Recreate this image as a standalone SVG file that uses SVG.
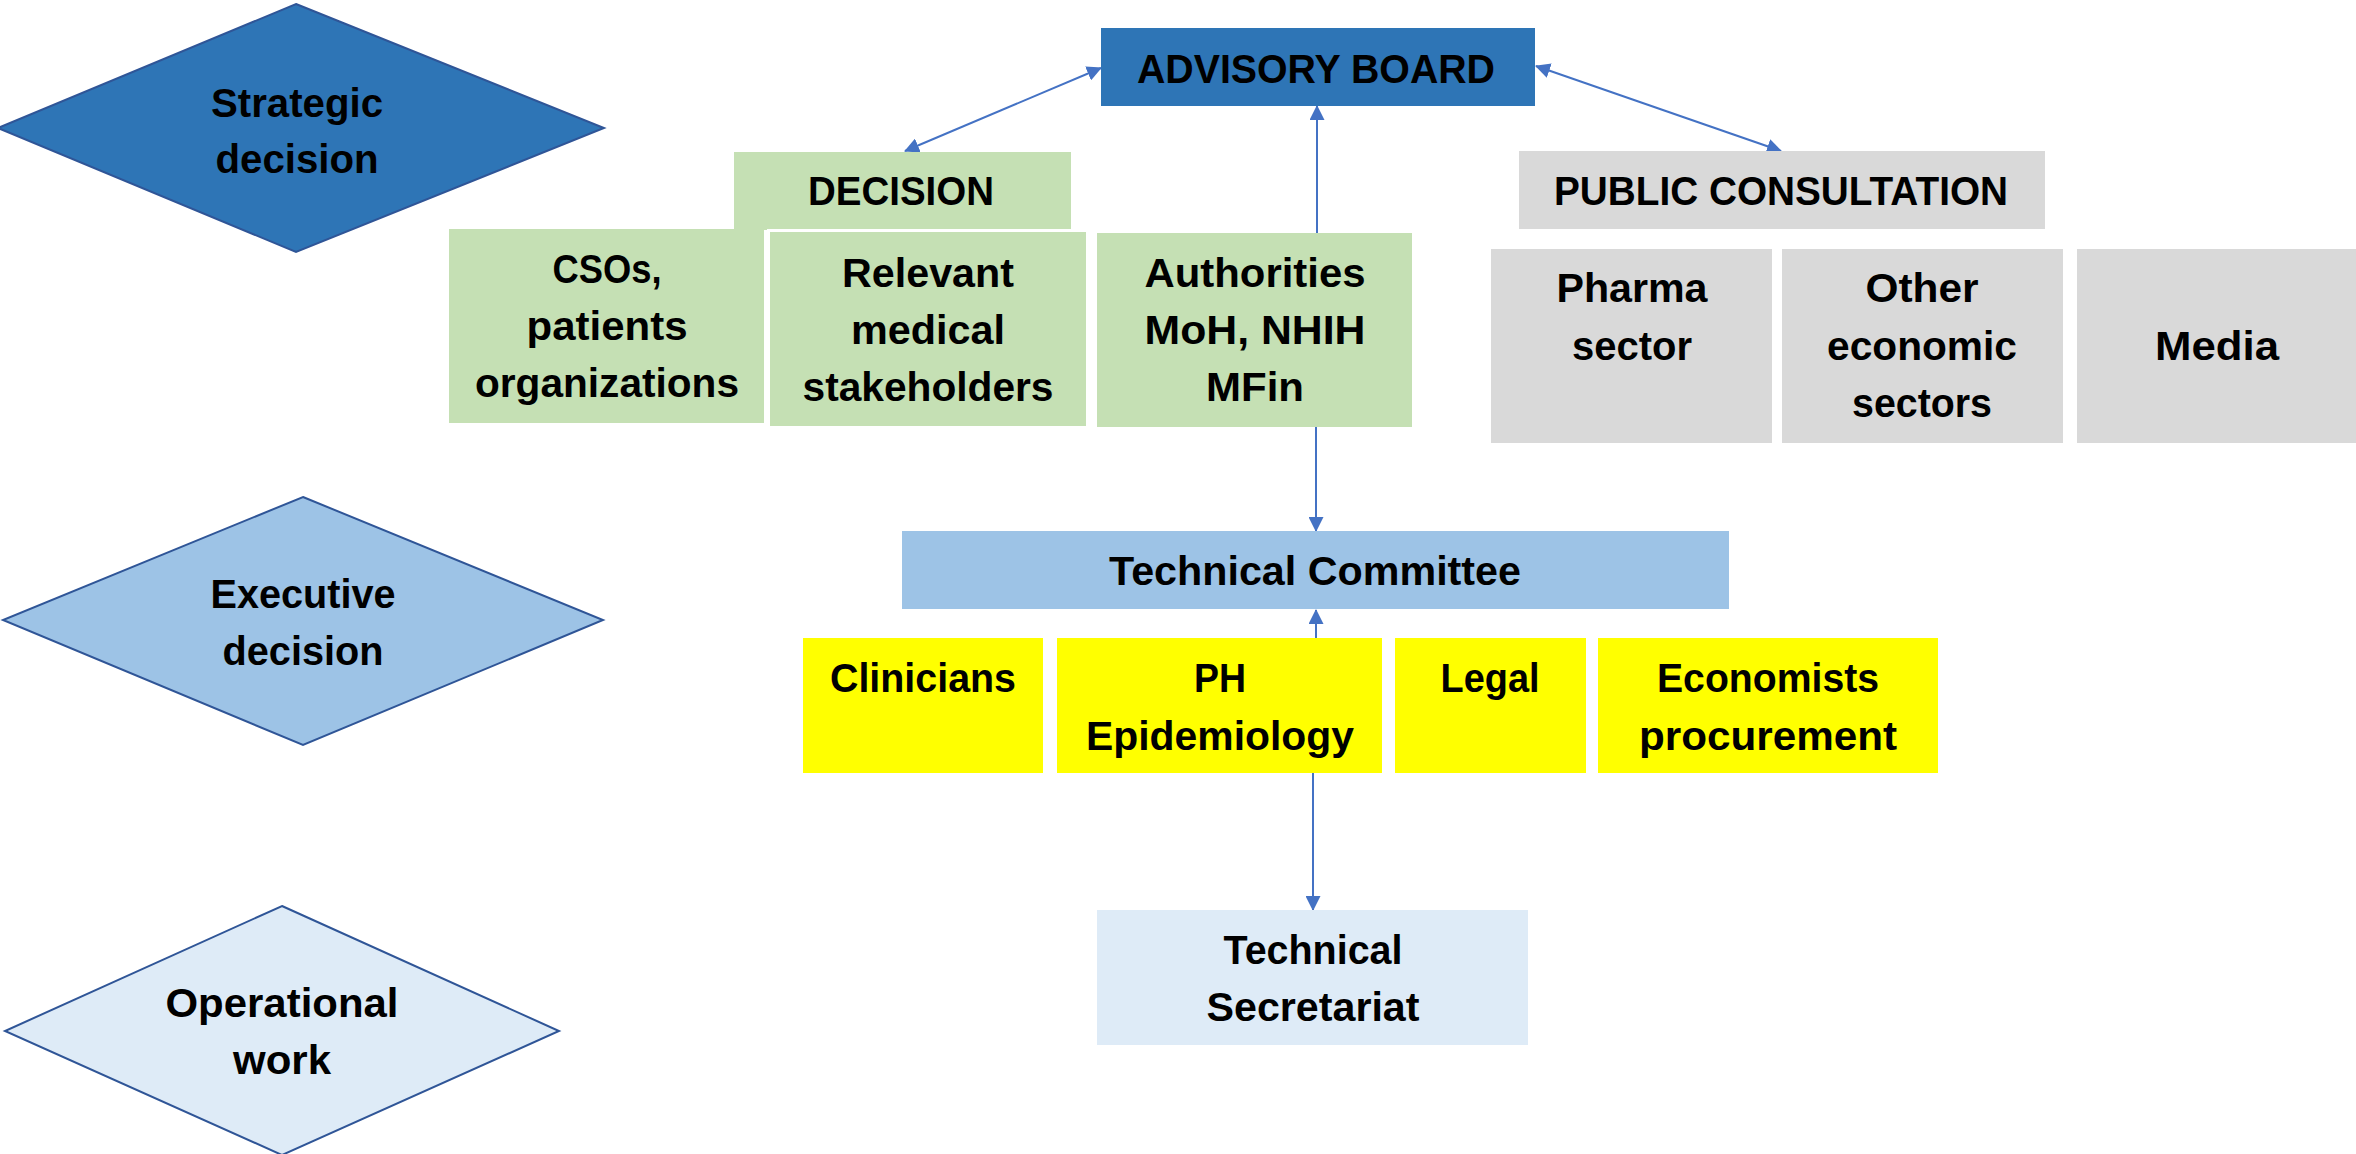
<svg xmlns="http://www.w3.org/2000/svg" width="2356" height="1154" viewBox="0 0 2356 1154">
  <defs>
    <marker id="arrow" viewBox="0 0 15 15" refX="14" refY="7.5" markerWidth="15" markerHeight="15" markerUnits="userSpaceOnUse" orient="auto-start-reverse">
      <path d="M0,0 L15,7.5 L0,15 z" fill="#4472C4"/>
    </marker>
    <style>
      text { font-family: "Liberation Sans", Arial, sans-serif; font-weight: bold; font-size: 40px; fill: #000; text-anchor: middle; }
      .level { stroke: #2F5597; stroke-width: 2; }
      .strategic { fill: #2E75B6; }
      .executive { fill: #9DC3E6; }
      .operational { fill: #DEEBF7; }
      .green { fill: #C5E0B4; }
      .grey { fill: #D9D9D9; }
      .yellow { fill: #FFFF00; }
      .conn { stroke: #4472C4; stroke-width: 2; fill: none; }
    </style>
  </defs>
  <rect width="2356" height="1154" fill="#fff"/>

  <!-- Level diamonds -->
  <g id="level-strategic">
    <polygon class="level strategic" points="296,4 604,128 296,252 -2,128"/>
    <text x="297" y="117" textLength="172" lengthAdjust="spacingAndGlyphs">Strategic</text>
    <text x="297" y="173" textLength="163" lengthAdjust="spacingAndGlyphs">decision</text>
  </g>
  <g id="level-executive">
    <polygon class="level executive" points="303,497 603,620 303,745 3,620"/>
    <text x="303" y="608" textLength="185" lengthAdjust="spacingAndGlyphs">Executive</text>
    <text x="303" y="665" textLength="161" lengthAdjust="spacingAndGlyphs">decision</text>
  </g>
  <g id="level-operational">
    <polygon class="level operational" points="282,906 559,1031 282,1155 5,1031"/>
    <text x="282" y="1017" textLength="233" lengthAdjust="spacingAndGlyphs">Operational</text>
    <text x="282" y="1074" textLength="98" lengthAdjust="spacingAndGlyphs">work</text>
  </g>

  <!-- Connectors -->
  <g id="connectors">
    <line class="conn" x1="1101" y1="68" x2="905" y2="151" marker-start="url(#arrow)" marker-end="url(#arrow)"/>
    <line class="conn" x1="1317" y1="233" x2="1317" y2="106" marker-end="url(#arrow)"/>
    <line class="conn" x1="1536" y1="66" x2="1781" y2="151" marker-start="url(#arrow)" marker-end="url(#arrow)"/>
    <line class="conn" x1="1316" y1="427" x2="1316" y2="531" marker-end="url(#arrow)"/>
    <line class="conn" x1="1316" y1="638" x2="1316" y2="610" marker-end="url(#arrow)"/>
    <line class="conn" x1="1313" y1="773" x2="1313" y2="910" marker-end="url(#arrow)"/>
  </g>

  <!-- Strategic level -->
  <g id="advisory-board">
    <rect x="1101" y="28" width="434" height="78" class="strategic"/>
    <text x="1316" y="83" textLength="358" lengthAdjust="spacingAndGlyphs">ADVISORY BOARD</text>
  </g>
  <g id="decision">
    <rect x="734" y="152" width="337" height="78" class="green"/>
    <text x="901" y="205" textLength="186" lengthAdjust="spacingAndGlyphs">DECISION</text>
  </g>
  <g id="csos">
    <rect x="449" y="229" width="315" height="194" class="green"/>
    <text x="607" y="283" textLength="109" lengthAdjust="spacingAndGlyphs">CSOs,</text>
    <text x="607" y="340" textLength="161" lengthAdjust="spacingAndGlyphs">patients</text>
    <text x="607" y="397" textLength="264" lengthAdjust="spacingAndGlyphs">organizations</text>
  </g>
  <g id="medical-stakeholders">
    <rect x="770" y="232" width="316" height="194" class="green" stroke="#fff" stroke-width="6" paint-order="stroke"/>
    <text x="928" y="287" textLength="172" lengthAdjust="spacingAndGlyphs">Relevant</text>
    <text x="928" y="344" textLength="154" lengthAdjust="spacingAndGlyphs">medical</text>
    <text x="928" y="401" textLength="251" lengthAdjust="spacingAndGlyphs">stakeholders</text>
  </g>
  <g id="authorities">
    <rect x="1097" y="233" width="315" height="194" class="green"/>
    <text x="1255" y="287" textLength="221" lengthAdjust="spacingAndGlyphs">Authorities</text>
    <text x="1255" y="344" textLength="221" lengthAdjust="spacingAndGlyphs">MoH, NHIH</text>
    <text x="1255" y="401" textLength="98" lengthAdjust="spacingAndGlyphs">MFin</text>
  </g>
  <g id="public-consultation">
    <rect x="1519" y="151" width="526" height="78" class="grey"/>
    <text x="1781" y="205" textLength="454" lengthAdjust="spacingAndGlyphs">PUBLIC CONSULTATION</text>
  </g>
  <g id="pharma">
    <rect x="1491" y="249" width="281" height="194" class="grey"/>
    <text x="1632" y="302" textLength="151" lengthAdjust="spacingAndGlyphs">Pharma</text>
    <text x="1632" y="360" textLength="120" lengthAdjust="spacingAndGlyphs">sector</text>
  </g>
  <g id="other-sectors">
    <rect x="1782" y="249" width="281" height="194" class="grey"/>
    <text x="1922" y="302" textLength="113" lengthAdjust="spacingAndGlyphs">Other</text>
    <text x="1922" y="360" textLength="190" lengthAdjust="spacingAndGlyphs">economic</text>
    <text x="1922" y="417" textLength="140" lengthAdjust="spacingAndGlyphs">sectors</text>
  </g>
  <g id="media">
    <rect x="2077" y="249" width="279" height="194" class="grey"/>
    <text x="2217" y="360" textLength="124" lengthAdjust="spacingAndGlyphs">Media</text>
  </g>

  <!-- Executive level -->
  <g id="technical-committee">
    <rect x="902" y="531" width="827" height="78" class="executive"/>
    <text x="1315" y="585" textLength="412" lengthAdjust="spacingAndGlyphs">Technical Committee</text>
  </g>
  <g id="clinicians">
    <rect x="803" y="638" width="240" height="135" class="yellow"/>
    <text x="923" y="692" textLength="186" lengthAdjust="spacingAndGlyphs">Clinicians</text>
  </g>
  <g id="epidemiology">
    <rect x="1057" y="638" width="325" height="135" class="yellow"/>
    <text x="1220" y="692" textLength="52" lengthAdjust="spacingAndGlyphs">PH</text>
    <text x="1220" y="750" textLength="268" lengthAdjust="spacingAndGlyphs">Epidemiology</text>
  </g>
  <g id="legal">
    <rect x="1395" y="638" width="191" height="135" class="yellow"/>
    <text x="1490" y="692" textLength="99" lengthAdjust="spacingAndGlyphs">Legal</text>
  </g>
  <g id="economists">
    <rect x="1598" y="638" width="340" height="135" class="yellow"/>
    <text x="1768" y="692" textLength="222" lengthAdjust="spacingAndGlyphs">Economists</text>
    <text x="1768" y="750" textLength="258" lengthAdjust="spacingAndGlyphs">procurement</text>
  </g>

  <!-- Operational level -->
  <g id="technical-secretariat">
    <rect x="1097" y="910" width="431" height="135" class="operational"/>
    <text x="1313" y="964" textLength="179" lengthAdjust="spacingAndGlyphs">Technical</text>
    <text x="1313" y="1021" textLength="213" lengthAdjust="spacingAndGlyphs">Secretariat</text>
  </g>
</svg>
